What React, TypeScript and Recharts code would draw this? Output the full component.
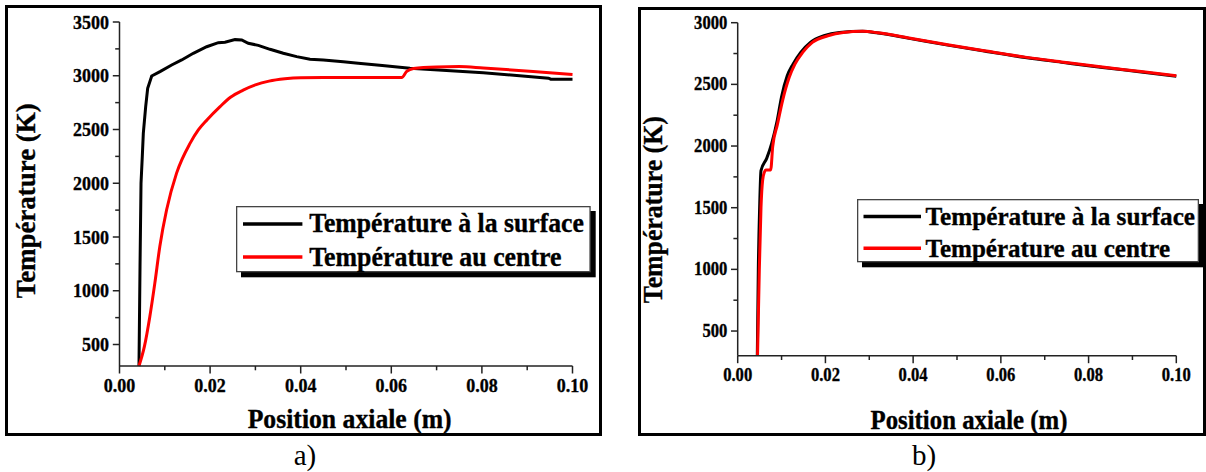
import React from 'react';
import { LineChart, Line, XAxis, YAxis, Legend } from 'recharts';

const FONT = "'Liberation Serif', 'Times New Roman', Times, serif";
const AXIS = '#222222';

// ---------- Panel a) ----------
const aSurfaceX = [0.0043, 0.00453, 0.00475, 0.00503, 0.00526, 0.00578, 0.00622, 0.00711, 0.00894, 0.01152, 0.01373, 0.01629, 0.01925, 0.02181, 0.02329, 0.0255, 0.02698, 0.02843, 0.03064, 0.03322, 0.03616, 0.03911, 0.04205, 0.045, 0.0494, 0.0527, 0.058, 0.0641, 0.0803, 0.0947, 0.0952, 0.1];
const aSurfaceT = [300, 1226, 2000, 2248, 2466, 2713, 2884, 2998, 3038, 3100, 3147, 3209, 3270, 3308, 3311, 3336, 3333, 3302, 3283, 3246, 3209, 3178, 3153, 3147, 3131, 3116, 3095, 3070, 3029, 2977, 2968, 2968];
const aCenterX = [0.0043, 0.0055, 0.0067, 0.0078, 0.0089, 0.0104, 0.0126, 0.0156, 0.0174, 0.0193, 0.0222, 0.0245, 0.0273, 0.03, 0.033, 0.0365, 0.04, 0.045, 0.05, 0.0623, 0.0634, 0.0649, 0.07, 0.075, 0.0803, 0.0913, 0.1];
const aCenterT = [300, 482, 761, 1071, 1412, 1753, 2094, 2373, 2496, 2589, 2713, 2800, 2866, 2915, 2950, 2972, 2982, 2984, 2984, 2984, 3040, 3068, 3082, 3085, 3072, 3040, 3012];

// ---------- Panel b) ----------
const bSurfaceX = [0.00447, 0.0047, 0.005, 0.00531, 0.00661, 0.00775, 0.00903, 0.01, 0.01129, 0.01261, 0.01437, 0.01658, 0.01966, 0.02319, 0.02848, 0.03201, 0.03907, 0.04788, 0.0567, 0.06552, 0.07434, 0.08316, 0.09198, 0.1];
const bSurfaceT = [300, 1000, 1500, 1800, 1900, 2022, 2211, 2400, 2569, 2664, 2759, 2840, 2894, 2921, 2930, 2916, 2873, 2818, 2767, 2718, 2677, 2637, 2601, 2566];
const bCenterX = [0.00452, 0.00493, 0.00531, 0.00569, 0.0061, 0.00638, 0.00752, 0.00798, 0.00903, 0.01026, 0.01173, 0.01305, 0.01481, 0.01702, 0.02055, 0.02407, 0.02848, 0.03201, 0.03907, 0.04788, 0.0567, 0.06552, 0.07434, 0.08316, 0.09198, 0.1];
const bCenterT = [300, 1000, 1500, 1724, 1790, 1806, 1806, 1995, 2171, 2373, 2555, 2664, 2759, 2840, 2894, 2921, 2930, 2918, 2876, 2821, 2770, 2721, 2680, 2640, 2604, 2570];

// ---------- Shared labels / ticks ----------
const seriesNames = ['Température à la surface', 'Température au centre'];
const seriesColors = ['#000000', '#ff0000'];
const xTicks = [0, 0.01, 0.02, 0.03, 0.04, 0.05, 0.06, 0.07, 0.08, 0.09, 0.1];
const xMajorTicks = [0, 0.02, 0.04, 0.06, 0.08, 0.1];
const aYTicks = [500, 750, 1000, 1250, 1500, 1750, 2000, 2250, 2500, 2750, 3000, 3250, 3500];
const aYMajorTicks = [500, 1000, 1500, 2000, 2500, 3000, 3500];
const bYTicks = [500, 750, 1000, 1250, 1500, 1750, 2000, 2250, 2500, 2750, 3000];
const bYMajorTicks = [500, 1000, 1500, 2000, 2500, 3000];
const xTitle = 'Position axiale (m)';
const yTitle = 'Température (K)';
const panelLabels = ['a)', 'b)'];

const zip = (xs: number[], ts: number[]) => xs.map((x, i) => ({ x, t: ts[i] }));

const isIn = (list: number[], v: number) => list.some((m) => Math.abs(m - v) < 1e-9);

// natural width (Times metrics) of a numeric label in em
const numEm = (s: string) => s.split('').reduce((a, c) => a + (c === '.' ? 0.25 : 0.5), 0);

const BOLD_STROKE = 0.35;

function makeXTick(majors: number[], fs: number, fw: number, dy: number) {
  return (props: any) => {
    const { x, y, payload } = props;
    const v = payload.value;
    const major = isIn(majors, v);
    const s = v.toFixed(2);
    return (
      <g>
        <line x1={x} x2={x} y1={y} y2={y + (major ? 7.5 : 4.3)} stroke={AXIS} strokeWidth={1.5} />
        {major && (
          <text x={x} y={y + dy} textAnchor="middle" fontFamily={FONT} fontWeight="bold" fontSize={fs} fill="#000"
            stroke="#000" strokeWidth={BOLD_STROKE} textLength={numEm(s) * fw} lengthAdjust="spacingAndGlyphs">
            {s}
          </text>
        )}
      </g>
    );
  };
}

function makeYTick(majors: number[], fs: number, fw: number, dx: number) {
  return (props: any) => {
    const { x, y, payload } = props;
    const v = payload.value;
    const major = isIn(majors, v);
    const s = String(v);
    return (
      <g>
        <line x1={x - (major ? 6.7 : 4.3)} x2={x} y1={y} y2={y} stroke={AXIS} strokeWidth={1.5} />
        {major && (
          <text x={x - dx} y={y + fs * 0.335} textAnchor="end" fontFamily={FONT} fontWeight="bold" fontSize={fs} fill="#000"
            stroke="#000" strokeWidth={BOLD_STROKE} textLength={numEm(s) * fw} lengthAdjust="spacingAndGlyphs">
            {s}
          </text>
        )}
      </g>
    );
  };
}

type LegendCfg = {
  x: number; y: number; w: number; h: number; shadow: number;
  lx1: number; lx2: number; ly: number[]; tx: number; ty: number[]; tl: number[]; fs: number;
};

function makeLegend(L: LegendCfg) {
  return (props: any) => {
    const pl: any[] = props.payload || [];
    const items = seriesNames.map((n, i) => {
      const p = pl.find((q: any) => q.value === n);
      return { value: n, color: p && p.color ? p.color : seriesColors[i] };
    });
    return (
      <svg width={L.w + L.shadow} height={L.h + L.shadow} style={{ display: 'block', overflow: 'visible' }}>
        <rect x={L.shadow} y={L.shadow} width={L.w} height={L.h} fill="#000" />
        <rect x={0.65} y={0.65} width={L.w - 1.3} height={L.h - 1.3} fill="#fff" stroke="#444" strokeWidth={1.3} />
        {items.map((p, i) => (
          <g key={i}>
            <line x1={L.lx1 - L.x} x2={L.lx2 - L.x} y1={L.ly[i] - L.y} y2={L.ly[i] - L.y} stroke={p.color} strokeWidth={3.5} />
            <text
              x={L.tx - L.x}
              y={L.ty[i] - L.y}
              fontFamily={FONT}
              fontWeight="bold"
              fontSize={L.fs}
              fill="#000"
              stroke="#000"
              strokeWidth={BOLD_STROKE}
              textLength={L.tl[i]}
              lengthAdjust="spacingAndGlyphs"
            >
              {p.value}
            </text>
          </g>
        ))}
      </svg>
    );
  };
}

type PanelCfg = {
  margin: { top: number; right: number; bottom: number; left: number };
  yDomain: [number, number];
  yTicks: number[];
  yMajor: number[];
  tickFs: number;
  tickFw: number;
  xDy: number;
  yDx: number;
  xTitlePos: { x: number; y: number };
  yTitlePos: { x: number; y: number };
  titleFs: number;
  titleLen: number[];
  legend: LegendCfg;
  surface: { x: number; t: number }[];
  center: { x: number; t: number }[];
  surfaceType: 'linear' | 'monotone';
};

function Panel({ cfg }: { cfg: PanelCfg }) {
  return (
    <div style={{ position: 'absolute', left: 0, top: 0 }}>
      <LineChart width={1206} height={472} margin={cfg.margin}>
        <XAxis
          type="number"
          dataKey="x"
          domain={[0, 0.1]}
          ticks={xTicks}
          interval={0}
          height={30}
          tickSize={0}
          tickMargin={0}
          tickLine={false}
          axisLine={{ stroke: AXIS, strokeWidth: 1.5 }}
          tick={makeXTick(xMajorTicks, cfg.tickFs, cfg.tickFw, cfg.xDy)}
          label={() => (
            <text
              x={cfg.xTitlePos.x}
              y={cfg.xTitlePos.y}
              textAnchor="middle"
              fontFamily={FONT}
              fontWeight="bold"
              fontSize={cfg.titleFs}
              fill="#000"
              stroke="#000"
              strokeWidth={BOLD_STROKE}
              textLength={cfg.titleLen[0]}
              lengthAdjust="spacingAndGlyphs"
            >
              {xTitle}
            </text>
          )}
        />
        <YAxis
          type="number"
          domain={cfg.yDomain}
          ticks={cfg.yTicks}
          interval={0}
          width={60}
          tickSize={0}
          tickMargin={0}
          tickLine={false}
          axisLine={{ stroke: AXIS, strokeWidth: 1.5 }}
          tick={makeYTick(cfg.yMajor, cfg.tickFs, cfg.tickFw, cfg.yDx)}
          label={() => (
            <text
              x={cfg.yTitlePos.x}
              y={cfg.yTitlePos.y}
              transform={`rotate(-90 ${cfg.yTitlePos.x} ${cfg.yTitlePos.y})`}
              textAnchor="middle"
              fontFamily={FONT}
              fontWeight="bold"
              fontSize={cfg.titleFs}
              fill="#000"
              stroke="#000"
              strokeWidth={BOLD_STROKE}
              textLength={cfg.titleLen[1]}
              lengthAdjust="spacingAndGlyphs"
            >
              {yTitle}
            </text>
          )}
        />
        <Line
          data={cfg.surface}
          dataKey="t"
          name={seriesNames[0]}
          type={cfg.surfaceType}
          stroke={seriesColors[0]}
          strokeWidth={3}
          dot={false}
          activeDot={false}
          isAnimationActive={false}
        />
        <Line
          data={cfg.center}
          dataKey="t"
          name={seriesNames[1]}
          type="monotone"
          stroke={seriesColors[1]}
          strokeWidth={3}
          dot={false}
          activeDot={false}
          isAnimationActive={false}
        />
        <Legend
          layout="horizontal"
          verticalAlign="middle"
          align="center"
          wrapperStyle={{
            position: 'absolute',
            left: cfg.legend.x,
            top: cfg.legend.y,
            width: cfg.legend.w + cfg.legend.shadow,
            height: cfg.legend.h + cfg.legend.shadow,
            margin: 0,
            padding: 0,
          }}
          content={makeLegend(cfg.legend)}
        />
      </LineChart>
    </div>
  );
}

const panelA: PanelCfg = {
  margin: { top: 22, right: 633.5, bottom: 76, left: 59.5 },
  yDomain: [300, 3500],
  yTicks: aYTicks,
  yMajor: aYMajorTicks,
  tickFs: 19.5,
  tickFw: 18,
  xDy: 25.5,
  yDx: 10.5,
  xTitlePos: { x: 349.7, y: 428 },
  yTitlePos: { x: 35.5, y: 200.8 },
  titleFs: 27,
  titleLen: [204, 195],
  legend: {
    x: 236.3, y: 205.7, w: 354.7, h: 66.3, shadow: 5,
    lx1: 243.3, lx2: 302.7, ly: [223.8, 256.7], tx: 309.5, ty: [231.7, 265.3], tl: [274.7, 252.4], fs: 27.5,
  },
  surface: zip(aSurfaceX, aSurfaceT),
  center: zip(aCenterX, aCenterT),
  surfaceType: 'linear',
};

const panelB: PanelCfg = {
  margin: { top: 22.7, right: 29.7, bottom: 86.3, left: 677.7 },
  yDomain: [300, 3000],
  yTicks: bYTicks,
  yMajor: bYMajorTicks,
  tickFs: 18,
  tickFw: 16.6,
  xDy: 24.8,
  yDx: 10.4,
  xTitlePos: { x: 969, y: 428.7 },
  yTitlePos: { x: 662, y: 209.7 },
  titleFs: 26.5,
  titleLen: [197, 187],
  legend: {
    x: 857, y: 199, w: 342, h: 63.3, shadow: 5,
    lx1: 863.5, lx2: 921, ly: [216.6, 248.3], tx: 925.5, ty: [225, 256.7], tl: [269.5, 244.5], fs: 25.5,
  },
  surface: zip(bSurfaceX, bSurfaceT),
  center: zip(bCenterX, bCenterT),
  surfaceType: 'monotone',
};

export default function App() {
  return (
    <div style={{ position: 'absolute', left: 0, top: 0, width: 1206, height: 472, background: '#fff', overflow: 'hidden' }}>
      <div style={{ position: 'absolute', left: 5, top: 5, width: 597, height: 431, border: '3px solid #000', boxSizing: 'border-box' }} />
      <div style={{ position: 'absolute', left: 638, top: 7, width: 568, height: 429, border: '3px solid #000', boxSizing: 'border-box' }} />
      <Panel cfg={panelA} />
      <Panel cfg={panelB} />
      <svg width={1206} height={472} style={{ position: 'absolute', left: 0, top: 0, pointerEvents: 'none' }}>
        <text x={305} y={465} textAnchor="middle" fontFamily={FONT} fontSize={29} fill="#000">{panelLabels[0]}</text>
        <text x={924} y={465} textAnchor="middle" fontFamily={FONT} fontSize={29} fill="#000">{panelLabels[1]}</text>
      </svg>
    </div>
  );
}
